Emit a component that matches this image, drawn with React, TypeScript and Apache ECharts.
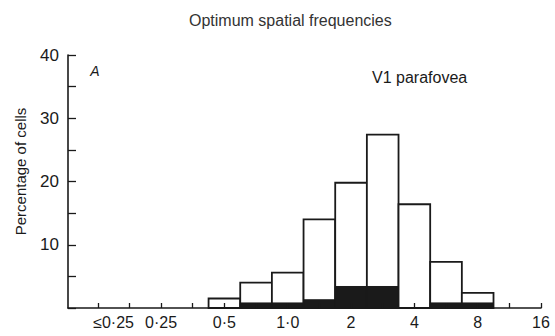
import React, { useEffect, useRef } from "react";
import * as echarts from "echarts";

// Optimum spatial frequency bins (cycles/deg), half-octave steps
const binFrequencies = [0.5, 0.71, 1.0, 1.41, 2, 2.83, 4, 5.66, 8];
// Percentage of cells (all cells, open bars)
const allCells = [1.5, 4.0, 5.6, 14.0, 19.8, 27.4, 16.4, 7.3, 2.4];
// Percentage of cells in the filled (black) part of each bar
const filledCells = [0, 0.8, 0.8, 1.3, 3.4, 3.4, 0, 0.8, 0.8];

// x axis in half-octave steps; step 6 = 1.0 c/deg
const xTickSteps = [0, 1, 2, 3, 4, 5, 6, 7, 8, 9, 10, 11, 12, 13, 14];
const xLabelSteps = [0.5, 2, 4, 6, 8, 10, 12, 14];
const xLabelTexts = ["≤0·25", "0·25", "0·5", "1·0", "2", "4", "8", "16"];
const yLabelValues = [10, 20, 30, 40];

const FONT = "'Liberation Sans', Arial, Helvetica, sans-serif";
const INK = "#1a1a1a";

const toStep = (f: number) => Math.round((6 + 2 * Math.log2(f)) * 2) / 2;

export default function App() {
  const ref = useRef<HTMLDivElement>(null);
  useEffect(() => {
    if (!ref.current) return;
    const chart = echarts.init(ref.current, null, { renderer: "svg" });
    const data = binFrequencies.map((f, i) => [toStep(f), allCells[i], filledCells[i]]);
    chart.setOption({
      animation: false,
      backgroundColor: "#fff",
      title: {
        text: "Optimum spatial frequencies",
        left: 189,
        top: 12,
        padding: 0,
        textStyle: { fontSize: 16, fontWeight: "normal", color: "#333", fontFamily: FONT },
      },
      graphic: [
        {
          type: "text",
          x: 95,
          y: 71,
          style: {
            text: "A",
            fontSize: 14,
            fontStyle: "italic",
            fontFamily: FONT,
            fill: INK,
            textAlign: "center",
            textVerticalAlign: "middle",
          },
        },
        {
          type: "text",
          x: 372,
          y: 77,
          style: {
            text: "V1 parafovea",
            fontSize: 16,
            fontFamily: FONT,
            fill: INK,
            textAlign: "left",
            textVerticalAlign: "middle",
          },
        },
      ],
      grid: { left: 68, right: 14, top: 55, bottom: 28, containLabel: false },
      xAxis: {
        type: "value",
        min: -0.94,
        max: 14,
        z: 5,
        splitLine: { show: false },
        axisLine: { onZero: false, lineStyle: { color: INK, width: 1.6 } },
        axisTick: {
          inside: true,
          length: 5,
          customValues: xTickSteps,
          lineStyle: { color: INK, width: 1.3 },
        },
        axisLabel: {
          customValues: xLabelSteps,
          margin: 6,
          fontSize: 16,
          color: INK,
          fontFamily: FONT,
          formatter: (v: number) => {
            const i = xLabelSteps.findIndex((s) => Math.abs(s - v) < 1e-6);
            return i >= 0 ? xLabelTexts[i] : "";
          },
        },
      },
      yAxis: {
        type: "value",
        min: 0,
        max: 40,
        interval: 5,
        splitLine: { show: false },
        axisLine: { show: true, onZero: false, lineStyle: { color: INK, width: 1.6 } },
        axisTick: { show: true, inside: true, length: 8, lineStyle: { color: INK, width: 1.3 } },
        axisLabel: {
          margin: 9,
          fontSize: 17,
          color: INK,
          fontFamily: FONT,
          formatter: (v: number) => (yLabelValues.indexOf(v) >= 0 ? String(v) : ""),
        },
        name: "Percentage of cells",
        nameLocation: "middle",
        nameGap: 40,
        nameTextStyle: { fontSize: 15, color: INK, fontFamily: FONT, padding: [0, 0, 0, 20] },
      },
      series: [
        {
          type: "custom",
          data,
          encode: { x: 0, y: 1 },
          renderItem: (params: any, api: any) => {
            const x = api.value(0);
            const total = api.value(1);
            const filled = api.value(2);
            const pTop = api.coord([x - 0.5, total]);
            const pBase = api.coord([x + 0.5, 0]);
            const pFill = api.coord([x - 0.5, filled]);
            const children: any[] = [
              {
                type: "rect",
                shape: {
                  x: pTop[0],
                  y: pTop[1],
                  width: pBase[0] - pTop[0],
                  height: pBase[1] - pTop[1],
                },
                style: { fill: "#fff", stroke: INK, lineWidth: 1.8 },
              },
            ];
            if (filled > 0) {
              children.push({
                type: "rect",
                shape: {
                  x: pFill[0],
                  y: pFill[1],
                  width: pBase[0] - pFill[0],
                  height: pBase[1] - pFill[1],
                },
                style: { fill: INK, stroke: INK, lineWidth: 1 },
              });
            }
            return { type: "group", children };
          },
        },
      ],
    });
    return () => chart.dispose();
  }, []);
  return (
    <div
      ref={ref}
      style={{ position: "absolute", left: 0, top: 0, width: 555, height: 336 }}
    />
  );
}
